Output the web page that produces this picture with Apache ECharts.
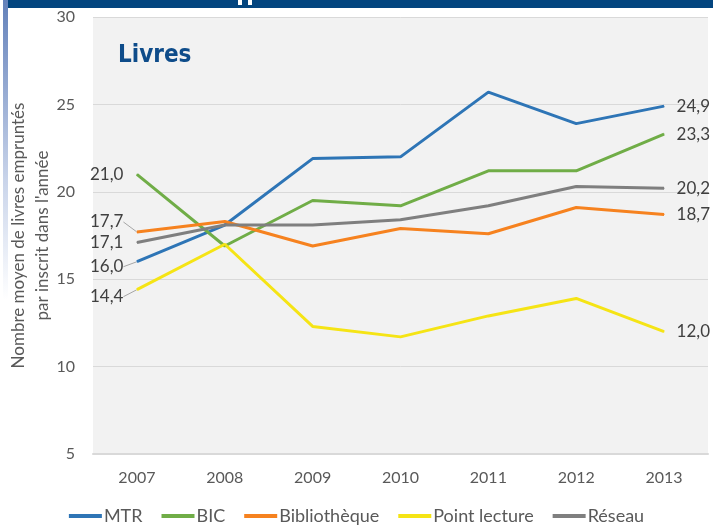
<!DOCTYPE html>
<html>
<head>
<meta charset="utf-8">
<script src="https://cdn.jsdelivr.net/npm/echarts@6/dist/echarts.min.js"></script>
<style>
  html, body { margin: 0; padding: 0; background: #fff; }
  #main { width: 713px; height: 525px; }
</style>
</head>
<body>
<div id="main"></div>
<script>
// values
var years = ["2007", "2008", "2009", "2010", "2011", "2012", "2013"];
var mtr = [16.0, 18.1, 21.9, 22.0, 25.7, 23.9, 24.9];
var bic = [21.0, 16.9, 19.5, 19.2, 21.2, 21.2, 23.3];
var bibliotheque = [17.7, 18.3, 16.9, 17.9, 17.6, 19.1, 18.7];
var pointLecture = [14.4, 17.0, 12.3, 11.7, 12.9, 13.9, 12.0];
var reseau = [17.1, 18.1, 18.1, 18.4, 19.2, 20.3, 20.2];

var FONT = "Lato, 'Open Sans', sans-serif";

function fmt(p) {
  return p.value.toFixed(1).replace(".", ",");
}

// vertical shift of the first label (pixels), where the labels would collide
var firstLabelShift = { "MTR": 5, "Bibliothèque": -10, "Point lecture": 7 };

// first and last points carry a value label
function withEndLabels(name, vals) {
  return vals.map(function (v, i) {
    if (i === 0) {
      return {
        value: v,
        label: { show: true, position: "left", distance: 13 },
        labelLine: { show: !!firstLabelShift[name] }
      };
    }
    if (i === vals.length - 1) {
      return { value: v, label: { show: true, position: "right", distance: 12 }, labelLine: { show: false } };
    }
    return v;
  });
}

function makeSeries(name, vals, color) {
  return {
    name: name,
    type: "line",
    data: withEndLabels(name, vals),
    symbol: "circle",
    symbolSize: 1,
    lineStyle: { width: 3, color: color },
    itemStyle: { color: color },
    label: { show: false, formatter: fmt, fontSize: 17, fontFamily: FONT, color: "#404040" },
    labelLine: { show: false, lineStyle: { color: "#A6A6A6", width: 1 } },
    labelLayout: function (params) {
      if (params.dataIndex === 0 && firstLabelShift[name]) {
        return { dy: firstLabelShift[name] };
      }
      return {};
    }
  };
}

var chart = echarts.init(document.getElementById("main"));
var option = {
  animation: false,
  backgroundColor: "#ffffff",
  textStyle: { fontFamily: FONT },
  title: {
    text: "Livres",
    left: 113,
    top: 39,
    textStyle: {
      fontFamily: "'DejaVu Sans Condensed', 'DejaVu Sans', sans-serif",
      fontWeight: "bold",
      fontSize: 24,
      color: "#0E4C8A"
    }
  },
  graphic: [
    { type: "rect", left: 7, top: 0, shape: { width: 706, height: 8 }, style: { fill: "#03457F" }, z: 10 },
    { type: "rect", left: 238, top: 0, shape: { width: 4, height: 5 }, style: { fill: "#ffffff" }, z: 11 },
    { type: "rect", left: 248, top: 0, shape: { width: 4, height: 5 }, style: { fill: "#ffffff" }, z: 11 },
    {
      type: "rect", left: 3, top: 0, shape: { width: 5, height: 300 },
      style: {
        fill: new echarts.graphic.LinearGradient(0, 0, 0, 1, [
          { offset: 0, color: "#6381BA" },
          { offset: 0.6, color: "#C9D4EA" },
          { offset: 1, color: "#ffffff" }
        ])
      },
      z: 10
    }
  ],
  legend: {
    top: 502,
    left: "center",
    icon: "rect",
    itemWidth: 33,
    itemHeight: 4,
    itemGap: 19,
    textStyle: { fontSize: 18, color: "#595959", fontFamily: FONT, padding: [0, 0, 0, -3] },
    data: ["MTR", "BIC", "Bibliothèque", "Point lecture", "Réseau"]
  },
  grid: {
    left: 93,
    right: 5,
    top: 17,
    bottom: 71,
    outerBoundsMode: "none",
    containLabel: false,
    show: true,
    backgroundColor: "#F2F2F2",
    borderWidth: 0
  },
  xAxis: {
    type: "category",
    data: years,
    boundaryGap: true,
    axisLine: { show: true, lineStyle: { color: "#D9D9D9", width: 2 } },
    axisTick: { show: false },
    axisLabel: { color: "#595959", fontSize: 16, fontFamily: FONT, margin: 16 }
  },
  yAxis: {
    type: "value",
    min: 5,
    max: 30,
    interval: 5,
    name: "Nombre moyen de livres empruntés\npar inscrit dans l'année",
    nameLocation: "middle",
    nameRotate: 90,
    nameGap: 38,
    nameMoveOverlap: false,
    nameTextStyle: { color: "#595959", fontSize: 17, fontFamily: FONT, lineHeight: 24 },
    axisLine: { show: false },
    axisTick: { show: false },
    axisLabel: { color: "#595959", fontSize: 16, fontFamily: FONT, margin: 18 },
    splitLine: { lineStyle: { color: "#D9D9D9", width: 1 } }
  },
  series: [
    makeSeries("MTR", mtr, "#2E75B6"),
    makeSeries("BIC", bic, "#70AD47"),
    makeSeries("Bibliothèque", bibliotheque, "#F6821F"),
    makeSeries("Point lecture", pointLecture, "#F5E415"),
    makeSeries("Réseau", reseau, "#7F7F7F")
  ]
};

option && chart.setOption(option);
</script>
</body>
</html>
